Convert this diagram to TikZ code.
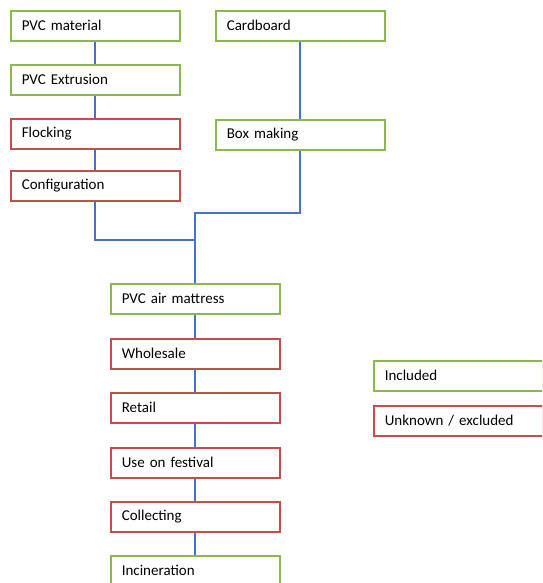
\documentclass[tikz,border=0pt]{standalone}
\usepackage{fontspec}
\setmainfont{Carlito}
\usetikzlibrary{positioning}
\definecolor{incgreen}{RGB}{140,182,80}
\definecolor{excred}{RGB}{192,80,77}
\definecolor{linkblue}{RGB}{68,114,196}

\begin{document}
\begin{tikzpicture}[x=1pt,y=-1pt]
	\tikzset{stage/.style={draw,line width=1.6pt,anchor=north west,minimum width=169pt,minimum height=30pt,text width=147pt,inner xsep=11pt,align=left,font=\fontsize{15}{17}\selectfont,fill=white}}
	\tikzset{included/.style={stage,draw=incgreen}}
	\tikzset{excluded/.style={stage,draw=excred}}
	\tikzset{link/.style={draw=linkblue,line width=1.8pt}}
	\clip (0,0) rectangle (542,583);
	\useasboundingbox (0,0) rectangle (542,583);
	% supply chain of the mattress
	\node[included] (pvcmat) at (10,10) {PVC material};
	\node[included] (pvcext) at (10,64) {PVC Extrusion};
	\node[excluded] (flock) at (10,118) {Flocking};
	\node[excluded] (config) at (10,170) {Configuration};
	% packaging
	\node[included] (cardbd) at (215,10) {Cardboard};
	\node[included] (boxmk) at (215,119) {Box making};
	% product life
	\node[included] (mattress) at (110,283) {PVC air mattress};
	\node[excluded] (whole) at (110,338) {Wholesale};
	\node[excluded] (retail) at (110,392) {Retail};
	\node[excluded] (festival) at (110,447) {Use on festival};
	\node[excluded] (collect) at (110,501) {Collecting};
	\node[included] (incin) at (110,555) {Incineration};
	% legend
	\node[included] (leginc) at (373,360) {Included};
	\node[excluded] (legexc) at (373,405) {Unknown / excluded};
	\coordinate (joinL) at (195,240);
	\coordinate (joinR) at (195,213);
	\begin{scope}[on background layer/.try]
	\draw[link] (pvcmat) -- (pvcext);
	\draw[link] (pvcext) -- (flock);
	\draw[link] (flock) -- (config);
	\draw[link] (cardbd) -- (boxmk);
	\draw[link] (config.south) |- (joinL) -- (joinL |- mattress.north);
	\draw[link] (boxmk.south) |- (joinR) -- (joinL);
	\draw[link] (mattress) -- (whole);
	\draw[link] (whole) -- (retail);
	\draw[link] (retail) -- (festival);
	\draw[link] (festival) -- (collect);
	\draw[link] (collect) -- (incin);
	\end{scope}
\end{tikzpicture}
\end{document}
